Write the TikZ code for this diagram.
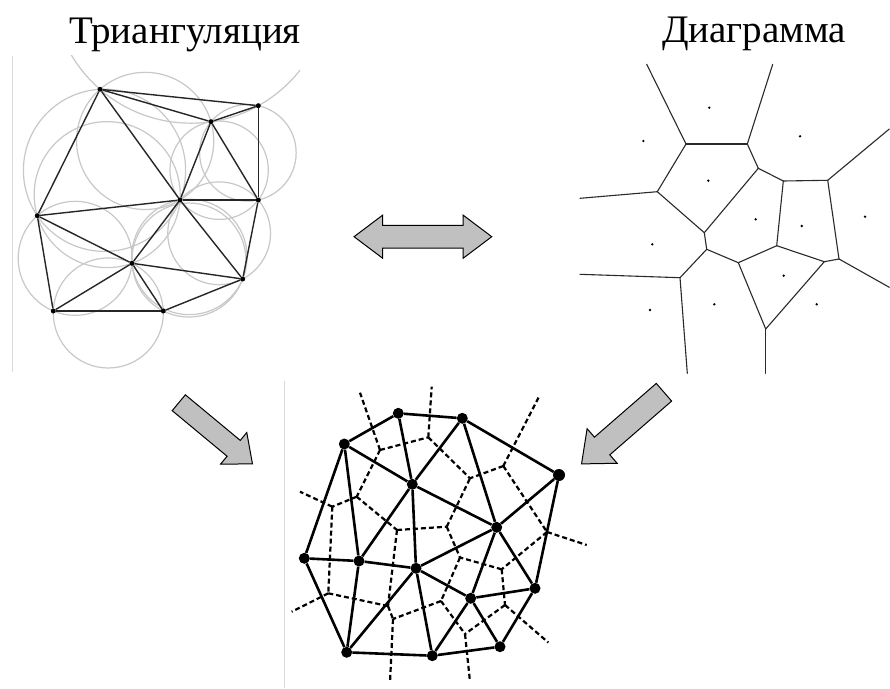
\documentclass[tikz,border=0pt]{standalone}
\usepackage{fontspec}
\setmainfont{Liberation Serif}
\usetikzlibrary{shapes.arrows}
\definecolor{circgray}{HTML}{C8C8C8}
\definecolor{arrowgray}{HTML}{C0C0C0}
\definecolor{vorline}{HTML}{2A2A2A}
% circumcircle through three points given in pixel units
\newcommand\mycirc[6]{%
  \pgfmathsetmacro\mcax{#1/100}\pgfmathsetmacro\mcay{#2/100}%
  \pgfmathsetmacro\mcbx{#3/100}\pgfmathsetmacro\mcby{#4/100}%
  \pgfmathsetmacro\mccx{#5/100}\pgfmathsetmacro\mccy{#6/100}%
  \pgfmathsetmacro\mcd{2*(\mcax*(\mcby-\mccy)+\mcbx*(\mccy-\mcay)+\mccx*(\mcay-\mcby))}%
  \pgfmathsetmacro\mcA{\mcax*\mcax+\mcay*\mcay}%
  \pgfmathsetmacro\mcB{\mcbx*\mcbx+\mcby*\mcby}%
  \pgfmathsetmacro\mcC{\mccx*\mccx+\mccy*\mccy}%
  \pgfmathsetmacro\mcux{(\mcA*(\mcby-\mccy)+\mcB*(\mccy-\mcay)+\mcC*(\mcay-\mcby))/\mcd}%
  \pgfmathsetmacro\mcuy{(\mcA*(\mccx-\mcbx)+\mcB*(\mcax-\mccx)+\mcC*(\mcbx-\mcax))/\mcd}%
  \pgfmathsetmacro\mcr{sqrt((\mcux-\mcax)*(\mcux-\mcax)+(\mcuy-\mcay)*(\mcuy-\mcay))}%
  \draw[circ] (\mcux*100,\mcuy*100) circle[radius=\mcr*100];%
}
\begin{document}
\begin{tikzpicture}[x=1pt,y=-1pt,
  tdot/.style={circle, fill=black, inner sep=0pt, minimum size=5pt},
  tedge/.style={line width=1.4pt, black!85},
  circ/.style={circgray, line width=1.2pt},
  vedge/.style={vorline, line width=1.1pt, line cap=round},
  vsite/.style={circle, fill=black, inner sep=0pt, minimum size=2.6pt},
  bdot/.style={circle, fill=black, inner sep=0pt, minimum size=11pt},
  bedge/.style={line width=2.6pt},
  dedge/.style={line width=2.2pt, dash pattern=on 5pt off 3pt},
  fatarrow/.style={single arrow, draw=black, fill=arrowgray, line width=1pt, inner xsep=0pt, single arrow tip angle=80},
  title/.style={font=\fontsize{39}{46}\selectfont, anchor=base, inner sep=0pt},
  frameline/.style={black!15, line width=0.8pt}]
\useasboundingbox (0,0) rectangle (890,688);
\fill[white] (0,0) rectangle (890,688);

% ---------- titles ----------
\node[title] (t1) at (185,43) {Триангуляция};
\node[title] (t2) at (754,42) {Диаграмма};

% ---------- left panel: Delaunay triangulation with circumcircles ----------
\draw[frameline] (12.5,56) -- (12.5,372);
\begin{scope}
\clip (12,55) rectangle (300,372);
\mycirc{100}{89.3}{258.3}{105.7}{211}{121.7}
\mycirc{100}{89.3}{37.3}{215.7}{180}{200}
\mycirc{100}{89.3}{211}{121.7}{180}{200}
\mycirc{211}{121.7}{180}{200}{258.3}{200}
\mycirc{211}{121.7}{258.3}{105.7}{258.3}{200}
\mycirc{37.3}{215.7}{180}{200}{132}{263.3}
\mycirc{37.3}{215.7}{132}{263.3}{53.3}{311}
\mycirc{180}{200}{132}{263.3}{242.7}{279}
\mycirc{180}{200}{258.3}{200}{242.7}{279}
\mycirc{132}{263.3}{242.7}{279}{163.3}{311}
\mycirc{132}{263.3}{53.3}{311}{163.3}{311}
\end{scope}
\node[tdot] (A) at (100,89.3) {};
\node[tdot] (B) at (258.3,105.7) {};
\node[tdot] (C) at (211,121.7) {};
\node[tdot] (D) at (180,200) {};
\node[tdot] (E) at (258.3,200) {};
\node[tdot] (F) at (37.3,215.7) {};
\node[tdot] (G) at (132,263.3) {};
\node[tdot] (H) at (242.7,279) {};
\node[tdot] (I) at (53.3,311) {};
\node[tdot] (J) at (163.3,311) {};
\foreach \u/\v in {A/B,A/C,C/B,A/F,A/D,C/D,C/E,B/E,F/D,D/E,F/G,F/I,D/G,D/H,E/H,G/H,G/I,G/J,I/J,J/H}
  \draw[tedge] (\u) -- (\v);

% ---------- right panel: Voronoi diagram ----------
\coordinate (V1) at (686,144);
\coordinate (V2) at (747.3,144);
\coordinate (V3) at (657.3,191.7);
\coordinate (V4) at (758.3,168.3);
\coordinate (V5) at (783.3,181);
\coordinate (V6) at (827.7,180.3);
\coordinate (V7) at (704.3,232.7);
\coordinate (V8) at (706.7,249.3);
\coordinate (V9) at (776.7,245.7);
\coordinate (V10) at (839,259);
\coordinate (V11) at (824.3,261.7);
\coordinate (V12) at (738.3,262.7);
\coordinate (V13) at (680,277.7);
\coordinate (V14) at (765.7,329);
\coordinate (R1) at (646.7,64.3);
\coordinate (R2) at (772.7,64.3);
\coordinate (R3) at (580,198.3);
\coordinate (R4) at (889.3,129);
\coordinate (R5) at (889.3,287.3);
\coordinate (R6) at (580,274.3);
\coordinate (R7) at (687.3,373.3);
\coordinate (R8) at (765.7,373.3);
\foreach \u/\v in {V1/V2,V1/V3,V2/V4,V4/V5,V5/V6,V3/V7,V4/V7,V7/V8,V8/V13,V8/V12,V12/V9,V9/V5,V9/V11,V11/V10,V10/V6,V12/V14,V11/V14,V1/R1,V2/R2,V3/R3,V6/R4,V10/R5,V13/R6,V13/R7,V14/R8}
  \draw[vedge] (\u) -- (\v);
\node[vsite] (S1) at (709.3,107.7) {};
\node[vsite] (S2) at (643.3,141) {};
\node[vsite] (S3) at (800,136.3) {};
\node[vsite] (S4) at (708.3,180.7) {};
\node[vsite] (S5) at (755.7,219.3) {};
\node[vsite] (S6) at (801.7,226) {};
\node[vsite] (S7) at (865,216.7) {};
\node[vsite] (S8) at (652.3,244.3) {};
\node[vsite] (S9) at (783.7,275.7) {};
\node[vsite] (S10) at (714.3,304.3) {};
\node[vsite] (S11) at (816.7,304.3) {};
\node[vsite] (S12) at (650,310) {};

% ---------- bottom panel: both together ----------
\draw[frameline] (284.5,381) -- (284.5,688);
\coordinate (Q1) at (380,450);
\coordinate (Q2) at (428.3,437.3);
\coordinate (Q3) at (356.7,496.7);
\coordinate (Q4) at (332.3,506.7);
\coordinate (Q5) at (397,530);
\coordinate (Q6) at (446.7,526.7);
\coordinate (Q7) at (503.3,466);
\coordinate (Q8) at (470,478.3);
\coordinate (Q9) at (547,532);
\coordinate (Q10) at (501.7,569.3);
\coordinate (Q11) at (460,557.5);
\coordinate (Q12) at (505,605);
\coordinate (Q13) at (441,601);
\coordinate (Q14) at (465,634);
\coordinate (Q15) at (328.3,593.3);
\coordinate (Q16) at (388,606);
\coordinate (Q17) at (393,619);
\coordinate (Ra) at (360,392.7);
\coordinate (Rb) at (431.7,386.7);
\coordinate (Rc) at (300,491.7);
\coordinate (Rd) at (539,396.7);
\coordinate (Re) at (586.7,545);
\coordinate (Rf) at (548.3,642.5);
\coordinate (Rg) at (470,681.7);
\coordinate (Rh) at (291.7,611.7);
\coordinate (Ri) at (390,682.5);
\foreach \u/\v in {Q1/Ra,Q1/Q2,Q1/Q3,Q2/Rb,Q2/Q8,Q3/Q4,Q3/Q5,Q4/Rc,Q4/Q15,Q5/Q6,Q5/Q16,Q6/Q8,Q6/Q11,Q7/Rd,Q7/Q8,Q7/Q9,Q9/Re,Q9/Q10,Q10/Q11,Q10/Q12,Q11/Q13,Q12/Rf,Q12/Q14,Q13/Q14,Q13/Q17,Q14/Rg,Q15/Rh,Q15/Q16,Q16/Q17,Q17/Ri}
  \draw[dedge] (\u) -- (\v);
\node[bdot] (P1) at (398.3,413.3) {};
\node[bdot] (P2) at (462.3,418.3) {};
\node[bdot] (P3) at (344.3,444) {};
\node[bdot, minimum size=12pt] (P4) at (559,475) {};
\node[bdot] (P5) at (412.3,484.3) {};
\node[bdot] (P6) at (496.7,527.3) {};
\node[bdot] (P7) at (304.3,558.3) {};
\node[bdot] (P8) at (359,561) {};
\node[bdot] (P9) at (416,568.3) {};
\node[bdot] (P10) at (535,588.3) {};
\node[bdot] (P11) at (470.7,598.3) {};
\node[bdot] (P12) at (346.7,652.3) {};
\node[bdot] (P13) at (432.3,655.7) {};
\node[bdot] (P14) at (500,646.7) {};
\foreach \u/\v in {P3/P1,P1/P2,P2/P4,P4/P10,P10/P14,P14/P13,P13/P12,P12/P7,P7/P3,P3/P5,P3/P8,P1/P5,P2/P5,P2/P6,P4/P6,P5/P6,P5/P8,P5/P9,P7/P8,P8/P9,P9/P6,P6/P10,P6/P11,P9/P11,P11/P10,P11/P14,P11/P13,P9/P13,P9/P12,P8/P12}
  \draw[bedge] (\u) -- (\v);

% ---------- block arrows ----------
\node[double arrow, draw=black, fill=arrowgray, line width=1pt, inner xsep=0pt, inner ysep=10.85pt,
      minimum height=137.7pt, minimum width=42pt, double arrow head extend=10.15pt,
      double arrow tip angle=74] (dbl) at (422.9,236.7) {};
\node[fatarrow, inner ysep=9.8pt, minimum height=95.8pt, minimum width=40pt,
      single arrow head extend=10.2pt, rotate=-39.7] (la) at (210.9,429.4) {};
\node[fatarrow, inner ysep=11.2pt, minimum height=109.2pt, minimum width=44.8pt,
      single arrow head extend=11.2pt, rotate=-139] (ra) at (628,423.5) {};
\end{tikzpicture}
\end{document}
